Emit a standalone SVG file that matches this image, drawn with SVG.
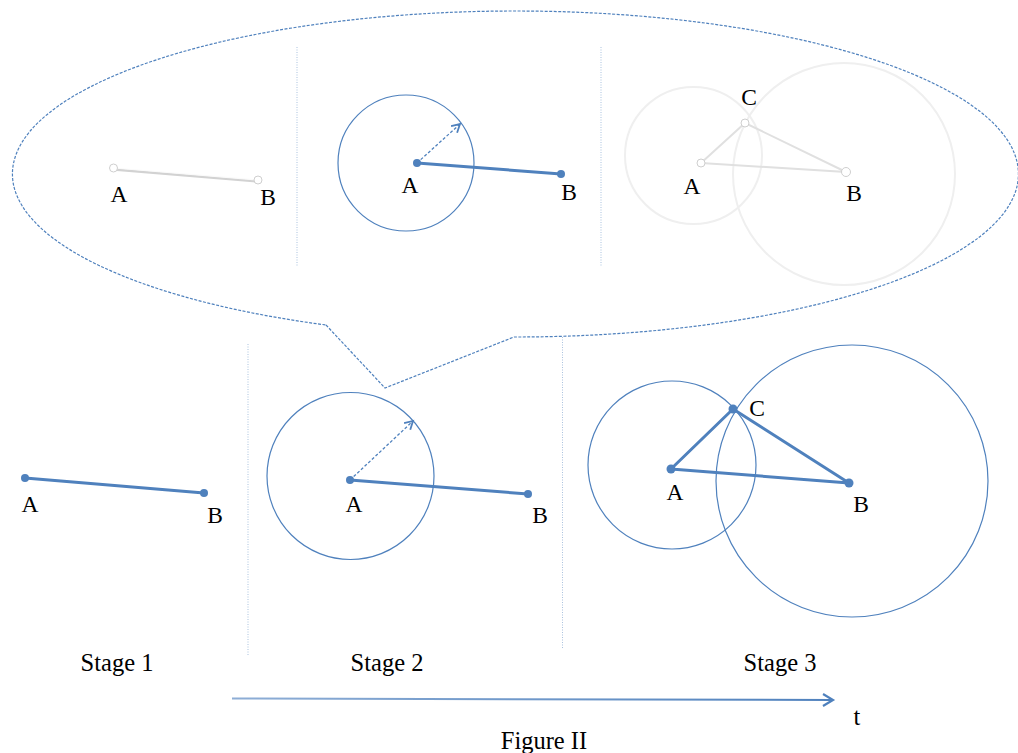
<svg xmlns="http://www.w3.org/2000/svg" width="1018" height="753" viewBox="0 0 1018 753">
<style>
.lbl{font-family:"Liberation Serif","Times New Roman",serif;font-size:23.5px;fill:#000;text-anchor:middle}
.stage{font-family:"Liberation Serif","Times New Roman",serif;font-size:24.5px;fill:#000;text-anchor:middle}
.seg{stroke:#4f81bd;stroke-width:3;fill:none;stroke-linecap:round}
.dot{fill:#4f81bd}
.circ{fill:none;stroke:#4f81bd;stroke-width:1.2}
.div{stroke:#a9c1de;stroke-width:1;stroke-dasharray:1 1.5}
.dash{stroke:#4f81bd;stroke-width:1.3;stroke-dasharray:3 2;fill:none}
.ghostc{fill:none;stroke:#efefef;stroke-width:2}
.ghostl{stroke:#e0e0e0;stroke-width:2;fill:none}
.gdot{fill:#fff;stroke:#cfcfcf;stroke-width:1}
</style>
<defs>
<marker id="chev" markerWidth="14" markerHeight="14" refX="9" refY="5" orient="auto" markerUnits="userSpaceOnUse">
<path d="M1,0.5 L9,5 L1,9.5" fill="none" stroke="#4f81bd" stroke-width="1.8"/>
</marker>
<marker id="chevT" markerWidth="16" markerHeight="16" refX="11" refY="6.5" orient="auto" markerUnits="userSpaceOnUse">
<path d="M1,0.5 L11,6.5 L1,12.5" fill="none" stroke="#4f81bd" stroke-width="2.2"/>
</marker>
<linearGradient id="tg" gradientUnits="userSpaceOnUse" x1="232" y1="0" x2="835" y2="0">
<stop offset="0" stop-color="#8eaed6"/>
<stop offset="1" stop-color="#4f81bd"/>
</linearGradient>
</defs>
<rect width="1018" height="753" fill="#fff"/>

<g id="callout">
<path d="M326,325 L385,388 L514,337 A503,163 0 1 0 326,325" fill="none" stroke="#4f81bd" stroke-width="1.2" stroke-dasharray="3 1.5"/>
<line class="div" x1="297" y1="47" x2="297" y2="267"/>
<line class="div" x1="601" y1="47" x2="601" y2="267"/>
</g>

<g id="callout-stage1">
<line x1="114" y1="169.5" x2="258" y2="181.5" stroke="#d2d2d2" stroke-width="2.5"/>
<line x1="114" y1="168" x2="258" y2="180" stroke="#fafafa" stroke-width="1.2"/>
<circle class="gdot" cx="113.5" cy="168" r="4"/>
<circle class="gdot" cx="258" cy="180" r="4"/>
<text class="lbl" x="119" y="202">A</text>
<text class="lbl" x="268" y="205">B</text>
</g>

<g id="callout-stage2">
<circle class="circ" cx="406" cy="163" r="68"/>
<line class="dash" x1="417" y1="163" x2="460" y2="124" marker-end="url(#chev)"/>
<line class="seg" x1="417" y1="163" x2="561" y2="174"/>
<circle class="dot" cx="417" cy="163" r="4"/>
<circle class="dot" cx="561" cy="174" r="4"/>
<text class="lbl" x="410" y="193">A</text>
<text class="lbl" x="569" y="200">B</text>
</g>

<g id="callout-stage3">
<circle class="ghostc" cx="693.5" cy="155.5" r="68.5"/>
<circle class="ghostc" cx="844" cy="174" r="111"/>
<polyline class="ghostl" points="701,163 745,123 846,172 701,163"/>
<circle class="gdot" cx="701" cy="163" r="4"/>
<circle class="gdot" cx="745" cy="123" r="4"/>
<circle class="gdot" cx="846" cy="172" r="4.5"/>
<text class="lbl" x="749" y="105">C</text>
<text class="lbl" x="692" y="194">A</text>
<text class="lbl" x="854" y="201">B</text>
</g>

<g id="dividers">
<line class="div" x1="248" y1="344" x2="248" y2="656"/>
<line class="div" x1="562.5" y1="337" x2="562.5" y2="649"/>
</g>

<g id="stage1">
<line class="seg" x1="25" y1="478" x2="204" y2="493"/>
<circle class="dot" cx="25" cy="478" r="4"/>
<circle class="dot" cx="204" cy="493" r="4"/>
<text class="lbl" x="30" y="512">A</text>
<text class="lbl" x="215" y="523">B</text>
<text class="stage" x="117" y="671">Stage 1</text>
</g>

<g id="stage2">
<circle class="circ" cx="350.5" cy="476" r="83.5"/>
<line class="dash" x1="350" y1="480" x2="413" y2="421" marker-end="url(#chev)"/>
<line class="seg" x1="350" y1="480" x2="528" y2="494"/>
<circle class="dot" cx="350" cy="480" r="4"/>
<circle class="dot" cx="528" cy="494" r="4"/>
<text class="lbl" x="354" y="512">A</text>
<text class="lbl" x="540" y="523">B</text>
<text class="stage" x="387" y="671">Stage 2</text>
</g>

<g id="stage3">
<circle class="circ" cx="672" cy="465" r="84"/>
<circle class="circ" cx="852" cy="481" r="136"/>
<polyline class="seg" points="671,469 733,409 849,483 671,469" stroke-linejoin="round"/>
<circle class="dot" cx="671" cy="469" r="4.5"/>
<circle class="dot" cx="733" cy="409" r="4.5"/>
<circle class="dot" cx="849" cy="483" r="4.5"/>
<text class="lbl" x="757" y="416">C</text>
<text class="lbl" x="675" y="500">A</text>
<text class="lbl" x="861" y="512">B</text>
<text class="stage" x="780" y="671">Stage 3</text>
</g>

<g id="connectors">
<line x1="232" y1="698.5" x2="833" y2="700" stroke="url(#tg)" stroke-width="2" marker-end="url(#chevT)"/>
</g>

<g id="axis-labels">
<text class="stage" x="857" y="725">t</text>
<text class="stage" x="544" y="749">Figure II</text>
</g>
</svg>
